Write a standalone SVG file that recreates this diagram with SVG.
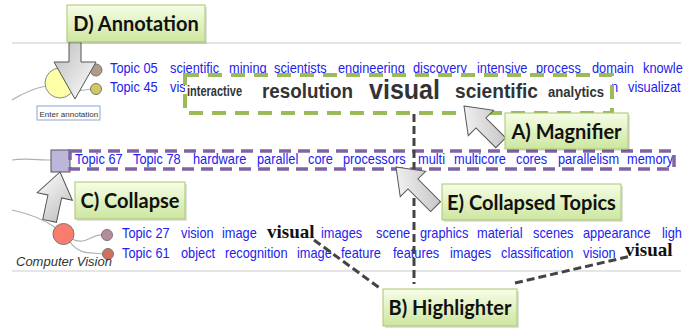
<svg xmlns="http://www.w3.org/2000/svg" width="697" height="330" viewBox="0 0 697 330">
<defs>
<linearGradient id="lbl" x1="0" y1="0" x2="0" y2="1">
<stop offset="0" stop-color="#f6fde6"/><stop offset="1" stop-color="#cde6a0"/>
</linearGradient>
<linearGradient id="arr" x1="0" y1="0" x2="1" y2="1">
<stop offset="0" stop-color="#ffffff"/><stop offset="1" stop-color="#bcbcbc"/>
</linearGradient>
<style>
.row{font-family:"Liberation Sans",Arial,sans-serif;font-size:12.8px;fill:#2222ee}
.hl{font-family:"Liberation Serif","Times New Roman",serif;font-size:19px;font-weight:bold;fill:#111}
.mag{font-family:"Liberation Sans",Arial,sans-serif;fill:#333;font-weight:bold}
.lbox{fill:url(#lbl);stroke:#a9c66f;stroke-width:1}
.shadow{fill:#000;opacity:0.12}
.ltxt{font-family:Lato,"Open Sans",sans-serif;font-size:20px;font-weight:bold;fill:#111;text-anchor:middle}
.arrow{fill:url(#arr);stroke:#555;stroke-width:1;stroke-linejoin:miter}
.rule{stroke:#dddddd;stroke-width:1.5;fill:none}
.tree{stroke:#b0b0b0;stroke-width:1.2;fill:none}
.conn{stroke:#444;stroke-width:3;fill:none;stroke-dasharray:8 4}
</style>
</defs>
<rect width="697" height="330" fill="#fff"/>
<line class="rule" x1="12" y1="43" x2="681" y2="43"/>
<line class="rule" x1="12" y1="271" x2="681" y2="271"/>

<g id="tree">
<path class="tree" d="M12,100 C25,92 35,88 46,86"/>
<path class="tree" d="M68,82 C78,74 84,70 90,70"/>
<path class="tree" d="M68,88 C78,92 84,90 91,89"/>
<path class="tree" d="M12,160 C25,158 38,160 51,160"/>
<path class="tree" d="M12,210 C30,214 45,220 56,228"/>
<path class="tree" d="M72,239 C85,246 92,234 102,235"/>
<path class="tree" d="M70,242 C80,256 92,252 103,254"/>
</g>

<g id="node-annot-cluster">
<circle cx="60" cy="83" r="15" fill="#ffffa8" stroke="#888" stroke-width="1"/>
<circle cx="96" cy="70" r="6" fill="#b09a88" stroke="#777" stroke-width="1"/>
<circle cx="96" cy="89" r="5.5" fill="#d2c860" stroke="#777" stroke-width="1"/>
<rect x="37" y="106" width="63" height="14" fill="#fff" stroke="#8aa4d6" stroke-width="1"/>
<text x="39.5" y="116.5" font-family="Liberation Sans,Arial,sans-serif" font-size="8" fill="#333">Enter annotation</text>
</g>

<g id="node-collapse-square">
<rect x="51" y="150" width="19" height="22" fill="#bbb6da" stroke="#555" stroke-width="1"/>
</g>

<g id="node-computer-vision">
<circle cx="63.5" cy="234" r="10.5" fill="#fa7c6c" stroke="#777" stroke-width="1"/>
<circle cx="107" cy="235" r="5.5" fill="#b48c9c" stroke="#777" stroke-width="1"/>
<circle cx="108" cy="254" r="5.5" fill="#d06f60" stroke="#777" stroke-width="1"/>
<text x="16" y="266" font-family="Liberation Sans,Arial,sans-serif" font-size="13" font-style="italic" fill="#333">Computer Vision</text>
</g>

<g id="rows">
<text class="row" transform="translate(0,73) scale(1,1.2)" y="0"><tspan x="110">Topic 05</tspan><tspan x="170">scientific</tspan><tspan x="229">mining</tspan><tspan x="274">scientists</tspan><tspan x="338">engineering</tspan><tspan x="413">discovery</tspan><tspan x="477">intensive</tspan><tspan x="536">process</tspan><tspan x="592">domain</tspan><tspan x="643">knowle</tspan></text>
<text class="row" transform="translate(0,92) scale(1,1.2)" y="0"><tspan x="110">Topic 45</tspan><tspan x="170">vis</tspan><tspan x="611">n</tspan><tspan x="628">visualizat</tspan></text>
<text class="row" transform="translate(0,164) scale(1,1.2)" y="0"><tspan x="75">Topic 67</tspan><tspan x="133">Topic 78</tspan><tspan x="193">hardware</tspan><tspan x="257">parallel</tspan><tspan x="308">core</tspan><tspan x="343">processors</tspan><tspan x="418">multi</tspan><tspan x="454">multicore</tspan><tspan x="516">cores</tspan><tspan x="558">parallelism</tspan><tspan x="627">memory</tspan></text>
<text class="row" transform="translate(0,238) scale(1,1.2)" y="0"><tspan x="122">Topic 27</tspan><tspan x="181">vision</tspan><tspan x="222">image</tspan><tspan x="321">images</tspan><tspan x="376">scene</tspan><tspan x="420">graphics</tspan><tspan x="477">material</tspan><tspan x="533">scenes</tspan><tspan x="583">appearance</tspan><tspan x="662">ligh</tspan></text>
<text class="hl" x="267" y="238">visual</text>
<text class="row" transform="translate(0,258) scale(1,1.2)" y="0"><tspan x="122">Topic 61</tspan><tspan x="181">object</tspan><tspan x="225">recognition</tspan><tspan x="297">image</tspan><tspan x="341">feature</tspan><tspan x="393">features</tspan><tspan x="450">images</tspan><tspan x="501">classification</tspan><tspan x="583">vision</tspan></text>
<text class="hl" x="625" y="256">visual</text>
</g>

<g id="node-magnifier">
<rect x="185" y="75" width="427" height="38" fill="#fff" stroke="#9bbb59" stroke-width="4" stroke-dasharray="14 9"/>
<text class="mag" x="187" y="96" font-size="15" textLength="55" lengthAdjust="spacingAndGlyphs">interactive</text>
<text class="mag" x="262" y="98" font-size="21" textLength="91" lengthAdjust="spacingAndGlyphs">resolution</text>
<text class="mag" x="369" y="99" font-size="28" textLength="71" lengthAdjust="spacingAndGlyphs">visual</text>
<text class="mag" x="455" y="98" font-size="21" textLength="83" lengthAdjust="spacingAndGlyphs">scientific</text>
<text class="mag" x="548" y="97" font-size="15" textLength="56" lengthAdjust="spacingAndGlyphs">analytics</text>
</g>

<g id="node-collapsed-topics-box">
<rect x="70" y="151" width="604" height="18" fill="none" stroke="#8064a2" stroke-width="3.5" stroke-dasharray="12 7"/>
</g>

<g id="connectors">
<line class="conn" x1="414" y1="114" x2="414" y2="284" stroke-dasharray="11 3"/>
<line class="conn" x1="314" y1="240" x2="381" y2="289"/>
<line class="conn" x1="515" y1="283" x2="631" y2="256"/>
<polygon class="arrow" transform="translate(75,99) rotate(180)" points="0,0 21,37 6,37 6,57 -6,57 -6,37 -21,37"/>
<polygon class="arrow" transform="translate(464,106) rotate(-45)" points="0,0 18,24 7,24 7,52 -7,52 -7,24 -18,24"/>
<polygon class="arrow" transform="translate(396,167) rotate(-45)" points="0,0 18,24 7,24 7,56 -7,56 -7,24 -18,24"/>
<polygon class="arrow" transform="translate(60,172) rotate(12)" points="0,0 18,25 7,25 7,50 -7,50 -7,25 -18,25"/>
</g>

<g id="label-d">
<rect class="shadow" x="69" y="7" width="138" height="37"/>
<rect class="lbox" x="67" y="5" width="138" height="37"/>
<text class="ltxt" x="136" y="31">D) Annotation</text>
</g>
<g id="label-a">
<rect class="shadow" x="507" y="115" width="123" height="36"/>
<rect class="lbox" x="505" y="113" width="123" height="36"/>
<text class="ltxt" x="566.5" y="139">A) Magnifier</text>
</g>
<g id="label-c">
<rect class="shadow" x="77" y="184" width="110" height="37"/>
<rect class="lbox" x="75" y="182" width="110" height="37"/>
<text class="ltxt" x="130" y="208">C) Collapse</text>
</g>
<g id="label-e">
<rect class="shadow" x="444" y="186" width="179" height="36"/>
<rect class="lbox" x="442" y="184" width="179" height="36"/>
<text class="ltxt" x="531.5" y="210">E) Collapsed Topics</text>
</g>
<g id="label-b">
<rect class="shadow" x="385" y="291" width="134" height="37"/>
<rect class="lbox" x="383" y="289" width="134" height="37"/>
<text class="ltxt" x="450" y="315">B) Highlighter</text>
</g>
</svg>
